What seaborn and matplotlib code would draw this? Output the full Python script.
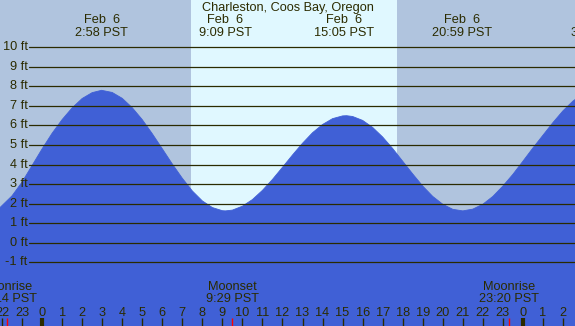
#!/usr/bin/env python

import matplotlib
matplotlib.use('Agg')
import matplotlib.pyplot as plt
import matplotlib.transforms as mtransforms
import pandas as pd
import seaborn as sns

# tide height (ft) every half hour, hours from midnight Feb 6 (PST)
HOURS = [-2.1, -1.5, -1.0, -0.5, 0.0, 0.5, 1.0, 1.5, 2.0, 2.5, 2.97,
         3.5, 4.0, 4.5, 5.0, 5.5, 6.0, 6.5, 7.0, 7.5, 8.0, 8.5, 9.0, 9.15,
         9.5, 10.0, 10.5, 11.0, 11.5, 12.0, 12.5, 13.0, 13.5, 14.0, 14.5,
         15.0, 15.2, 15.5, 16.0, 16.5, 17.0, 17.5, 18.0, 18.5, 19.0, 19.5,
         20.0, 20.5, 21.0, 21.5, 22.0, 22.5, 23.0, 23.5, 24.0, 24.5, 25.0,
         25.5, 26.0, 26.5, 26.65]
HEIGHTS = [1.8, 2.4, 3.1, 3.95, 4.8, 5.6, 6.3, 6.9, 7.38, 7.68, 7.8,
           7.69, 7.39, 6.91, 6.30, 5.58, 4.81, 4.03, 3.30, 2.65, 2.14, 1.80, 1.64, 1.63,
           1.67, 1.87, 2.21, 2.68, 3.24, 3.86, 4.49, 5.09, 5.63, 6.05, 6.35,
           6.49, 6.5, 6.46, 6.26, 5.90, 5.41, 4.82, 4.17, 3.52, 2.90, 2.37,
           1.97, 1.71, 1.63, 1.72, 1.97, 2.37, 2.90, 3.5, 4.17, 4.85, 5.5,
           6.15, 6.75, 7.25, 7.36]

HILO_TIMES = [2.97, 9.15, 15.08, 20.98, 27.7]
HILO_LABELS = ['Feb  6\n2:58 PST', 'Feb  6\n9:09 PST', 'Feb  6\n15:05 PST',
               'Feb  6\n20:59 PST', 'Feb  7\n3:52 PST']

MOON_TIMES = [-1.77, 9.48, 23.33]
MOON_LABELS = ['Moonrise\n22:14 PST', 'Moonset\n9:29 PST', 'Moonrise\n23:20 PST']

SUNRISE = 7.45
SUNSET = 17.7

FT_LEVELS = list(range(-1, 11))
TICK_HOURS = list(range(-2, 27))

TITLE = 'Charleston, Coos Bay, Oregon'

NIGHT = '#b0c4de'
DAY = '#e0f8ff'
WATER = '#4060d6'
INK = '#2b2b00'


def main():
    sns.set_style('white')
    plt.rcParams['font.family'] = ['Liberation Sans', 'DejaVu Sans']

    data = pd.DataFrame({'hour': HOURS, 'height': HEIGHTS})

    fig = plt.figure(figsize=(5.75, 3.26), dpi=100)
    ax = fig.add_axes([0, 0, 1, 1])
    ax.set_facecolor(NIGHT)
    ax.set_xlim(-2.1, 26.6)
    ax.set_ylim(-4.26, 12.42)

    ax.axvspan(SUNRISE, SUNSET, color=DAY, lw=0, zorder=0)

    ax.fill_between(data['hour'], data['height'], -10, color=WATER,
                    lw=0, zorder=1)
    sns.lineplot(x='hour', y='height', data=data, ax=ax, color=WATER,
                 lw=0.6, zorder=2)

    # foot lines and labels
    for ft in FT_LEVELS:
        ax.axhline(ft, xmin=29 / 575, xmax=1, color=INK, lw=0.9, zorder=3)
        ax.text(-0.72, ft, f'{ft} ft', ha='right', va='center',
                fontsize=9.2, color=INK, zorder=4)

    xt = mtransforms.blended_transform_factory(ax.transData, ax.transAxes)

    # high / low labels
    for t, lab in zip(HILO_TIMES, HILO_LABELS):
        ax.text(t, 1 - 26.5 / 326, lab, transform=xt, ha='center',
                va='center', fontsize=9.2, color=INK, linespacing=1.1)
    ax.text(0.5, 1 - 7.5 / 326, TITLE, transform=ax.transAxes, ha='center',
            va='center', fontsize=9.2, color=INK)

    # hour ticks
    for h in TICK_HOURS:
        lw = 3 if h % 24 == 0 else 1
        ax.plot([h, h], [0, 8 / 326], transform=xt, color=INK, lw=lw,
                solid_capstyle='butt', zorder=5)
        ax.text(h, 13 / 326, str(h % 24), transform=xt, ha='center',
                va='center', fontsize=9.2, color=INK)

    # moon events
    for t, lab in zip(MOON_TIMES, MOON_LABELS):
        ax.plot([t, t], [0, 8 / 326], transform=xt, color='red', lw=1,
                solid_capstyle='butt', zorder=6)
        ax.text(t, 33 / 326, lab, transform=xt, ha='center', va='center',
                fontsize=9.2, color=INK, linespacing=0.95)

    ax.set_xticks([])
    ax.set_yticks([])
    ax.set_xlabel('')
    ax.set_ylabel('')
    for s in ax.spines.values():
        s.set_visible(False)

    fig.savefig('out.png', dpi=100)
    plt.close(fig)


if __name__ == '__main__':
    main()
